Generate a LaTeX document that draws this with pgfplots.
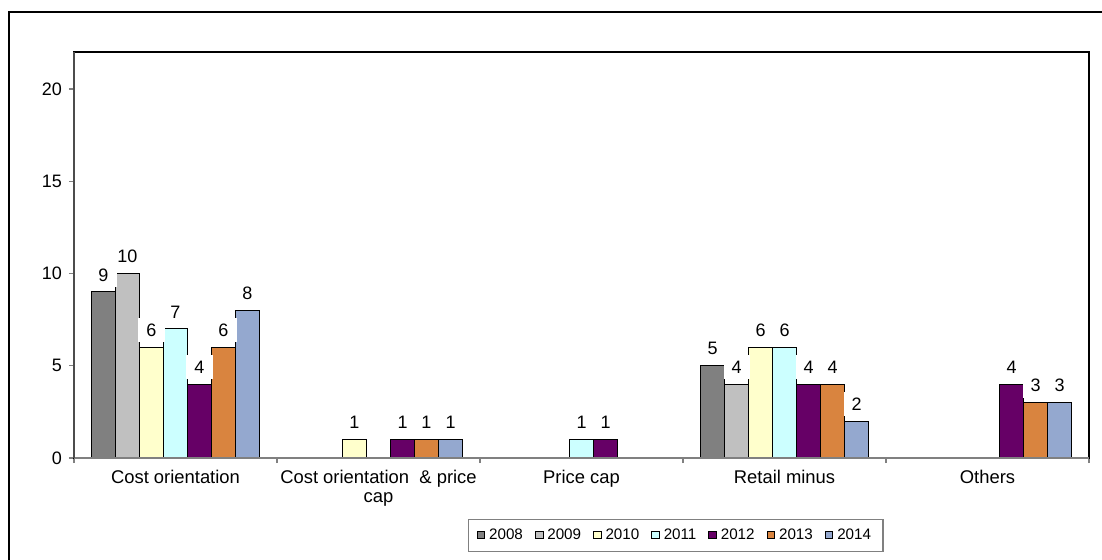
\documentclass[border=0pt]{standalone}
\usepackage{fontspec}
\setmainfont{Liberation Sans}
\usepackage{pgfplots}
\pgfplotsset{compat=1.18}
\definecolor{c2008}{HTML}{808080}
\definecolor{c2009}{HTML}{C0C0C0}
\definecolor{c2010}{HTML}{FFFFCC}
\definecolor{c2011}{HTML}{CCFFFF}
\definecolor{c2012}{HTML}{660066}
\definecolor{c2013}{HTML}{D9843F}
\definecolor{c2014}{HTML}{94A8CF}
\definecolor{axgray}{HTML}{808080}
\begin{document}
\begin{tikzpicture}
\path[use as bounding box] (0pt,0pt) rectangle (551pt,-280pt);
\draw[line width=0.7pt] (4.5pt,-281pt) -- (4.5pt,-6pt) -- (552pt,-6pt);
\begin{axis}[
  at={(37pt,-229pt)}, anchor=south west,
  scale only axis, width=507.5pt, height=203pt,
  ybar=0pt, bar width=12pt,
  legend image code/.code={\draw[#1,draw=black,line width=0.4pt] (0pt,-1.6pt) rectangle (3.8pt,2.2pt);},
  xmin=-0.5, xmax=4.5, ymin=0, ymax=22,
  xtick={0,1,2,3,4},
  xticklabels={Cost orientation, {Cost orientation\ \ \& price\\cap}, Price cap, Retail minus, Others},
  xticklabel style={align=center, font=\fontsize{9.2}{9.5}\selectfont},
  minor xtick={-0.5,0.5,1.5,2.5,3.5,4.5},
  major x tick style={draw=none},
  minor x tick style={draw=axgray, line width=0.6pt},
  xtick pos=bottom, ytick pos=left,
  ytick={0,5,10,15,20},
  yticklabel style={font=\fontsize{9}{10}\selectfont},
  /pgf/number format/assume math mode=true,
  tick align=outside,
  major tick length=2.5pt, minor tick length=2.5pt,
  y tick style={draw=axgray, line width=0.6pt},
  axis line style={line width=0.7pt, black},
  enlarge x limits=false,
  clip=false,
  nodes near coords,
  every node near coord/.append style={font=\fontsize{9}{10}\selectfont, fill=white, inner xsep=4pt, inner ysep=2.8pt, yshift=2.3pt},
  every axis plot/.append style={draw=black, line width=0.5pt},
  legend columns=7,
  legend style={at={(0.593,-0.150)}, anchor=north, draw=axgray, line width=0.7pt,
    font=\fontsize{7.6}{9}\selectfont, inner xsep=4pt, inner ysep=2.5pt,
    /tikz/every even column/.append style={column sep=4pt}},
  legend cell align=left,
]
\addplot[fill=c2008] coordinates {(0,9) (3,5)};
\addplot[fill=c2009] coordinates {(0,10) (3,4)};
\addplot[fill=c2010] coordinates {(0,6) (1,1) (3,6)};
\addplot[fill=c2011] coordinates {(0,7) (2,1) (3,6)};
\addplot[fill=c2012] coordinates {(0,4) (1,1) (2,1) (3,4) (4,4)};
\addplot[fill=c2013] coordinates {(0,6) (1,1) (3,4) (4,3)};
\addplot[fill=c2014] coordinates {(0,8) (1,1) (3,2) (4,3)};
\legend{2008,2009,2010,2011,2012,2013,2014}
\draw[axgray, line width=0.7pt] (rel axis cs:0,0) -- (rel axis cs:1,0);
\draw[black!70, line width=0.7pt] (rel axis cs:0,0) -- (rel axis cs:0,1);
\end{axis}
\end{tikzpicture}
\end{document}
